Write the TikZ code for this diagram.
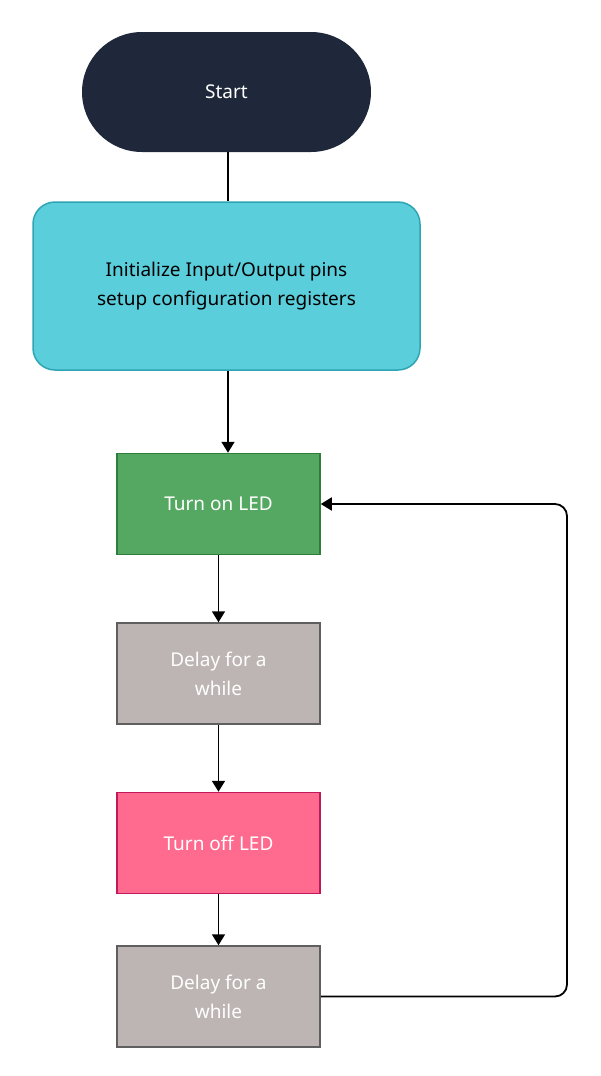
\documentclass[tikz,border=0pt]{standalone}
\usepackage{fontspec}
\setmainfont{Noto Sans}
\usetikzlibrary{positioning,arrows.meta}
\definecolor{startfill}{HTML}{1F283A}
\definecolor{initfill}{HTML}{5BCEDB}
\definecolor{initline}{HTML}{2EA5B5}
\definecolor{onfill}{HTML}{55A862}
\definecolor{online}{HTML}{2E7D3A}
\definecolor{delayfill}{HTML}{BDB5B3}
\definecolor{delayline}{HTML}{5F5F5F}
\definecolor{offfill}{HTML}{FF6B8F}
\definecolor{offline}{HTML}{C2185B}
\tikzset{
  box/.style = {draw, line width=1.5pt, minimum width=203pt, minimum height=101pt,
                align=center, font=\fontsize{19}{29}\selectfont, text=white},
  flow/.style = {line width=1.8pt, -{Triangle[length=11pt,width=13pt]}}
}
\begin{document}
\begin{tikzpicture}[x=1pt,y=-1pt]
  \useasboundingbox (0,0) rectangle (600,1076);
  \node[fill=startfill, rounded corners=60pt, minimum width=289pt, minimum height=120pt,
        text=white, font=\fontsize{19}{24}\selectfont] (start) at (226.5,92) {Start};
  \node[box, fill=initfill, draw=initline, rounded corners=22pt, minimum width=387pt,
        minimum height=168pt, text=black, font=\bfseries\fontsize{19}{29}\selectfont]
        (init) at (226.5,286) {Initialize Input/Output pins\\setup configuration registers};
  \node[box, fill=onfill, draw=online] (on) at (218.5,504) {Turn on LED};
  \node[box, fill=delayfill, draw=delayline, below=67pt of on] (delay1) {Delay for a\\while};
  \node[box, fill=offfill, draw=offline, below=67pt of delay1] (off) {Turn off LED};
  \node[box, fill=delayfill, draw=delayline, below=51pt of off] (delay2) {Delay for a\\while};
  \draw[line width=1.8pt] (start.south -| 228,0) -- (init.north -| 228,0);
  \draw[flow] (init.south -| 228,0) -- (on.north -| 228,0);
  \draw[flow] (on) -- (delay1);
  \draw[flow] (delay1) -- (off);
  \draw[flow] (off) -- (delay2);
  \draw[flow, rounded corners=12pt] (delay2.east) -| (567,700) |- (on.east);
\end{tikzpicture}
\end{document}
